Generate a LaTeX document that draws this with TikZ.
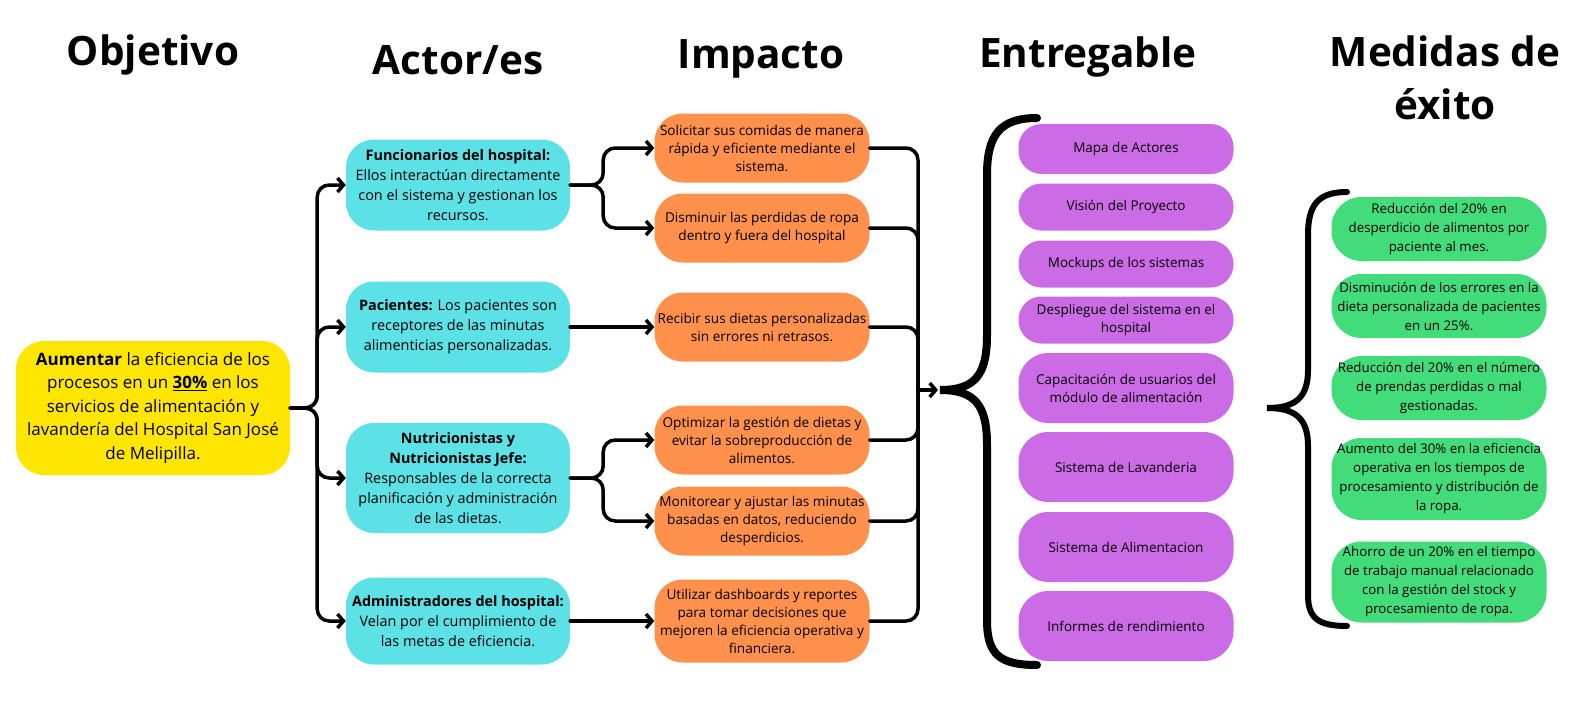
\documentclass[tikz,border=0pt]{standalone}
\usepackage{fontspec}
\setmainfont{Open Sans}
\usepackage{xcolor}
\usetikzlibrary{positioning, arrows.meta}
\definecolor{amarillo}{HTML}{FFE600}
\definecolor{cian}{HTML}{5CE1E6}
\definecolor{naranja}{HTML}{FF914D}
\definecolor{morado}{HTML}{CB6CE6}
\definecolor{verde}{HTML}{43DC7B}

\begin{document}
\begin{tikzpicture}[x=1pt,y=-1pt]
	\tikzstyle{titulo}=[font=\bfseries\fontsize{40.5}{53}\selectfont, align=center]
	\tikzstyle{caja}=[rectangle, rounded corners=28pt, inner sep=0pt, align=center, text=black]
	\tikzstyle{actor}=[caja, fill=cian, minimum width=224pt, minimum height=91pt, font=\fontsize{14.4}{20}\selectfont]
	\tikzstyle{impacto}=[caja, fill=naranja, minimum width=215pt, minimum height=69pt, font=\fontsize{13.6}{18}\selectfont]
	\tikzstyle{entrega}=[caja, fill=morado, rounded corners=23pt, minimum width=215pt, minimum height=47pt, font=\fontsize{13.5}{18}\selectfont]
	\tikzstyle{medida}=[caja, fill=verde, rounded corners=30pt, minimum width=215pt, minimum height=64pt, font=\fontsize{13.3}{19}\selectfont]
	\tikzstyle{conn}=[line width=3.5pt, line cap=round, rounded corners=12pt]
	\tikzstyle{flecha}=[conn, -{Straight Barb[length=6pt,width=14pt]}]
	\useasboundingbox (0,0) rectangle (1580,720);

	\node[titulo](t1) at (153,55) {Objetivo};
	\node[titulo](t2) at (458,60) {Actor/es};
	\node[titulo](t3) at (761,59) {Impacto};
	\node[titulo](t4) at (1088,57) {Entregable};
	\node[titulo](t5) at (1445,78) {Medidas de\\éxito};

	\node[caja, fill=amarillo, minimum width=274pt, minimum height=134pt, font=\fontsize{17}{23.5}\selectfont](obj) at (153,408)
		{\textbf{Aumentar} la eficiencia de los\\procesos en un \underline{\textbf{30\%}} en los\\servicios de alimentación y\\lavandería del Hospital San José\\de Melipilla.};

	\node[actor](act1) at (458,185) {\textbf{Funcionarios del hospital:}\\Ellos interactúan directamente\\con el sistema y gestionan los\\recursos.};
	\node[actor](act2) at (458,327) {\textbf{Pacientes:} Los pacientes son\\receptores de las minutas\\alimenticias personalizadas.};
	\node[actor, minimum height=110pt](act3) at (458,478) {\textbf{Nutricionistas y}\\\textbf{Nutricionistas Jefe:}\\Responsables de la correcta\\planificación y administración\\de las dietas.};
	\node[actor, minimum height=87pt](act4) at (458,621) {\textbf{Administradores del hospital:}\\Velan por el cumplimiento de\\las metas de eficiencia.};

	\node[impacto](imp1) at (762,148) {Solicitar sus comidas de manera\\rápida y eficiente mediante el\\sistema.};
	\node[impacto](imp2) at (762,228) {Disminuir las perdidas de ropa\\dentro y fuera del hospital};
	\node[impacto](imp3) at (762,327) {Recibir sus dietas personalizadas\\sin errores ni retrasos.};
	\node[impacto](imp4) at (762,440) {Optimizar la gestión de dietas y\\evitar la sobreproducción de\\alimentos.};
	\node[impacto](imp5) at (762,521) {Monitorear y ajustar las minutas\\basadas en datos, reduciendo\\desperdicios.};
	\node[impacto, minimum height=83pt](imp6) at (762,621) {Utilizar dashboards y reportes\\para tomar decisiones que\\mejoren la eficiencia operativa y\\financiera.};

	\node[entrega, minimum height=50pt](ent1) at (1126,149) {Mapa de Actores};
	\node[entrega](ent2) at (1126,207) {Visión del Proyecto};
	\node[entrega](ent3) at (1126,264) {Mockups de los sistemas};
	\node[entrega](ent4) at (1126,320) {Despliegue del sistema en el\\hospital};
	\node[entrega, rounded corners=30pt, minimum height=70pt](ent5) at (1126,388) {Capacitación de usuarios del\\módulo de alimentación};
	\node[entrega, rounded corners=30pt, minimum height=70pt](ent6) at (1126,467) {Sistema de Lavanderia};
	\node[entrega, rounded corners=30pt, minimum height=70pt](ent7) at (1126,547) {Sistema de Alimentacion};
	\node[entrega, rounded corners=30pt, minimum height=70pt](ent8) at (1126,626) {Informes de rendimiento};

	\node[medida](med1) at (1439,229) {Reducción del 20\% en\\desperdicio de alimentos por\\paciente al mes.};
	\node[medida](med2) at (1439,306) {Disminución de los errores en la\\dieta personalizada de pacientes\\en un 25\%.};
	\node[medida](med3) at (1439,388) {Reducción del 20\% en el número\\de prendas perdidas o mal\\gestionadas.};
	\node[medida, minimum height=82pt](med4) at (1439,479) {Aumento del 30\% en la eficiencia\\operativa en los tiempos de\\procesamiento y distribución de\\la ropa.};
	\node[medida, minimum height=81pt](med5) at (1439,582) {Ahorro de un 20\% en el tiempo\\de trabajo manual relacionado\\con la gestión del stock y\\procesamiento de ropa.};

	\coordinate (hub) at (918,390);
	\coordinate (punta) at (938,390);

	\foreach \a in {act1,act2,act3,act4}
		\draw[flecha](obj.east) -- ++(27,0) |- (\a.west);
	\draw[flecha](act1.east) -- ++(33,0) |- (imp1.west);
	\draw[flecha](act1.east) -- ++(33,0) |- (imp2.west);
	\draw[flecha](act2.east) -- (imp3.west);
	\draw[flecha](act3.east) -- ++(33,0) |- (imp4.west);
	\draw[flecha](act3.east) -- ++(33,0) |- (imp5.west);
	\draw[flecha](act4.east) -- (imp6.west);
	\foreach \i in {imp1,imp2,imp3,imp4,imp5,imp6}
		\draw[conn](\i.east) -| (hub);
	\draw[flecha](hub) -- (punta);

	\draw[line width=8pt, line cap=round](1037,118) .. controls (1000,118) and (987,135) .. (987,175) -- (987,335)
		.. controls (987,375) and (975,390) .. (940,390) .. controls (975,390) and (987,405) .. (987,445)
		-- (987,620) .. controls (987,655) and (1000,665) .. (1037,665);
	\draw[line width=6pt, line cap=round](1347,192) .. controls (1318,192) and (1308,205) .. (1308,235) -- (1308,370)
		.. controls (1308,398) and (1295,408) .. (1267,408) .. controls (1295,408) and (1308,418) .. (1308,446)
		-- (1308,595) .. controls (1308,618) and (1318,626) .. (1347,626);
\end{tikzpicture}
\end{document}
